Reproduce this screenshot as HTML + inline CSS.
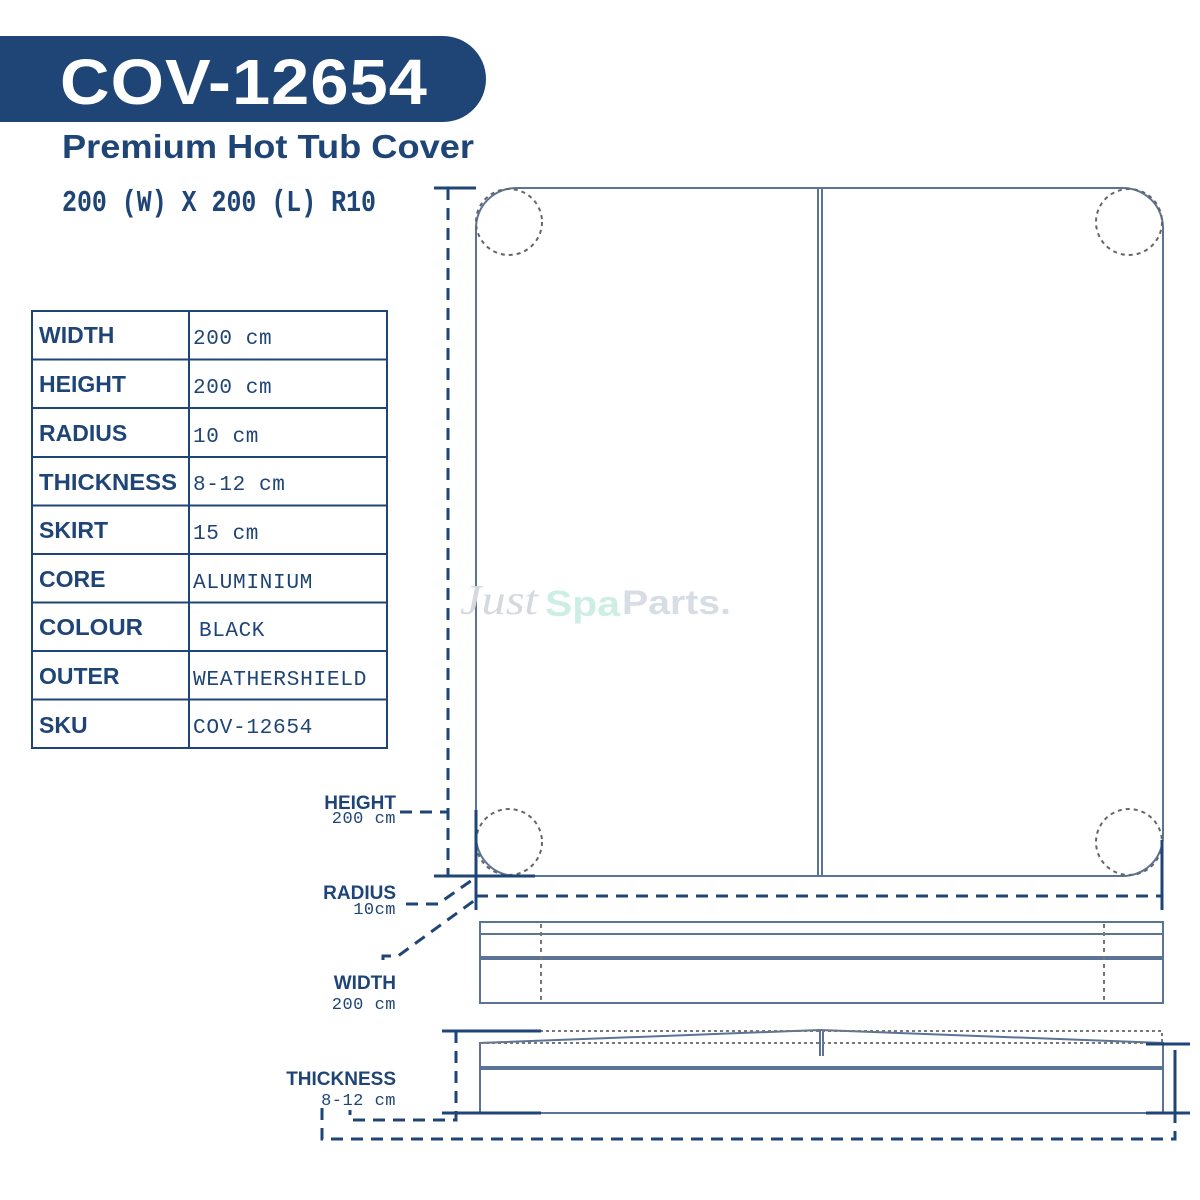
<!DOCTYPE html>
<html><head><meta charset="utf-8"><style>
html,body{margin:0;padding:0;background:#fff;width:1200px;height:1200px;overflow:hidden}
svg{display:block}
.s{font-family:"Liberation Sans",sans-serif;font-weight:bold;fill:#1f4577}
.m{font-family:"Liberation Mono",monospace;fill:#1f4577}
</style></head><body>
<svg width="1200" height="1200" viewBox="0 0 1200 1200" xmlns="http://www.w3.org/2000/svg">
<path d="M0 36 H443 A43 43 0 0 1 443 122 H0 Z" fill="#1f4577"/>
<text x="60" y="104" class="s" style="fill:#fff;font-size:64px;letter-spacing:1px" textLength="368" lengthAdjust="spacingAndGlyphs">COV-12654</text>
<text x="62" y="158" class="s" style="font-size:33px" textLength="412" lengthAdjust="spacingAndGlyphs">Premium Hot Tub Cover</text>
<text x="62" y="211" class="m" style="font-size:31px;font-weight:bold" textLength="314" lengthAdjust="spacingAndGlyphs">200 (W) X 200 (L) R10</text>
<g stroke="#1f4577" stroke-width="2" fill="none">
<rect x="32" y="311" width="355" height="437"/>
<line x1="189" y1="311" x2="189" y2="748"/>
<line x1="32" y1="359.5" x2="387" y2="359.5"/><line x1="32" y1="408" x2="387" y2="408"/>
<line x1="32" y1="457" x2="387" y2="457"/><line x1="32" y1="505.5" x2="387" y2="505.5"/>
<line x1="32" y1="554" x2="387" y2="554"/><line x1="32" y1="602.5" x2="387" y2="602.5"/>
<line x1="32" y1="651" x2="387" y2="651"/><line x1="32" y1="699.5" x2="387" y2="699.5"/>
</g>
<g class="s" style="font-size:23px">
<text x="39" y="343">WIDTH</text><text x="39" y="392">HEIGHT</text><text x="39" y="441">RADIUS</text>
<text x="39" y="490" textLength="138" lengthAdjust="spacingAndGlyphs">THICKNESS</text><text x="39" y="538">SKIRT</text><text x="39" y="587">CORE</text>
<text x="39" y="635" textLength="104" lengthAdjust="spacingAndGlyphs">COLOUR</text><text x="39" y="684">OUTER</text><text x="39" y="733">SKU</text>
</g>
<g class="m" style="font-size:21px;letter-spacing:0.6px">
<text x="193" y="344">200 cm</text><text x="193" y="393">200 cm</text><text x="193" y="442">10 cm</text>
<text x="193" y="490">8-12 cm</text><text x="193" y="539">15 cm</text><text x="193" y="588" textLength="120" lengthAdjust="spacingAndGlyphs">ALUMINIUM</text>
<text x="199" y="636">BLACK</text><text x="193" y="685" textLength="174" lengthAdjust="spacingAndGlyphs">WEATHERSHIELD</text><text x="193" y="733" textLength="120" lengthAdjust="spacingAndGlyphs">COV-12654</text>
</g>
<g fill="none" stroke="#5a7396" stroke-width="2">
<rect x="476" y="188" width="687" height="688" rx="40"/>
<line x1="818" y1="188" x2="818" y2="876"/><line x1="822" y1="188" x2="822" y2="876"/>
</g>
<g fill="none" stroke="#666" stroke-width="2" stroke-dasharray="4 4">
<circle cx="509" cy="222" r="33"/><circle cx="1129" cy="222" r="33"/>
<circle cx="509" cy="842" r="33"/><circle cx="1129" cy="842" r="33"/>
</g>
<g stroke="#1f4577" stroke-width="3" fill="none">
<line x1="434" y1="188" x2="476" y2="188"/>
<line x1="434" y1="876" x2="535" y2="876"/>
<line x1="476" y1="810" x2="476" y2="910"/>
<line x1="1162" y1="840" x2="1162" y2="910"/>
</g>
<g stroke="#1f4577" stroke-width="3" fill="none" stroke-dasharray="12 8">
<line x1="448" y1="188" x2="448" y2="876"/>
<path d="M400 812 H448"/>
<path d="M476 896 H1162"/>
<path d="M406 904 H438 L475 878"/>
<path d="M383 960 V956 H398 L475 900"/>
<path d="M456 1031 V1120 H350 V1110"/>
<path d="M322 1108 V1139 H1175 V1045"/>
</g>
<g class="s" style="font-size:19px" text-anchor="end">
<text x="396" y="809">HEIGHT</text><text x="396" y="899">RADIUS</text>
<text x="396" y="989">WIDTH</text><text x="396" y="1085">THICKNESS</text>
</g>
<g class="m" style="font-size:17px;letter-spacing:0.5px" text-anchor="end">
<text x="396" y="823">200 cm</text><text x="396" y="914">10cm</text>
<text x="396" y="1009">200 cm</text><text x="396" y="1105">8-12 cm</text>
</g>
<g fill="none" stroke="#5a7396" stroke-width="2">
<rect x="480" y="922" width="683" height="81"/>
<line x1="480" y1="934" x2="1163" y2="934"/>
<line x1="480" y1="958" x2="1163" y2="958" stroke-width="4"/>
<line x1="541" y1="924" x2="541" y2="1002" stroke="#777" stroke-dasharray="4 4"/>
<line x1="1104" y1="924" x2="1104" y2="1002" stroke="#777" stroke-dasharray="4 4"/>
</g>
<g fill="none" stroke="#5a7396" stroke-width="2">
<path d="M480 1113 V1043 L820 1030 L1163 1043 V1113 Z"/>
<line x1="480" y1="1068" x2="1163" y2="1068" stroke-width="4"/>
<path d="M820 1030 V1056 M823 1030 V1056"/>
<line x1="480" y1="1043" x2="1163" y2="1043" stroke="#777" stroke-dasharray="3 3"/>
<path d="M540 1031 H1162 V1043" stroke="#777" stroke-dasharray="3 3"/>
</g>
<g stroke="#1f4577" stroke-width="3">
<line x1="442" y1="1031" x2="541" y2="1031"/>
<line x1="442" y1="1113" x2="541" y2="1113"/>
<line x1="1146" y1="1044" x2="1190" y2="1044"/>
<line x1="1146" y1="1113" x2="1190" y2="1113"/>
<line x1="1175" y1="1050" x2="1175" y2="1115"/>
</g>
<text x="460" y="614" style="font-family:'Liberation Serif',serif;font-style:italic;font-size:42px;fill:#d5d9de" textLength="78" lengthAdjust="spacingAndGlyphs">Just</text>
<text x="545" y="616" class="s" style="font-size:36px;fill:#cdeee4" textLength="75" lengthAdjust="spacingAndGlyphs">Spa</text>
<text x="622" y="614" class="s" style="font-size:34px;fill:#d6dde5" textLength="109" lengthAdjust="spacingAndGlyphs">Parts.</text>
</svg>
</body></html>
